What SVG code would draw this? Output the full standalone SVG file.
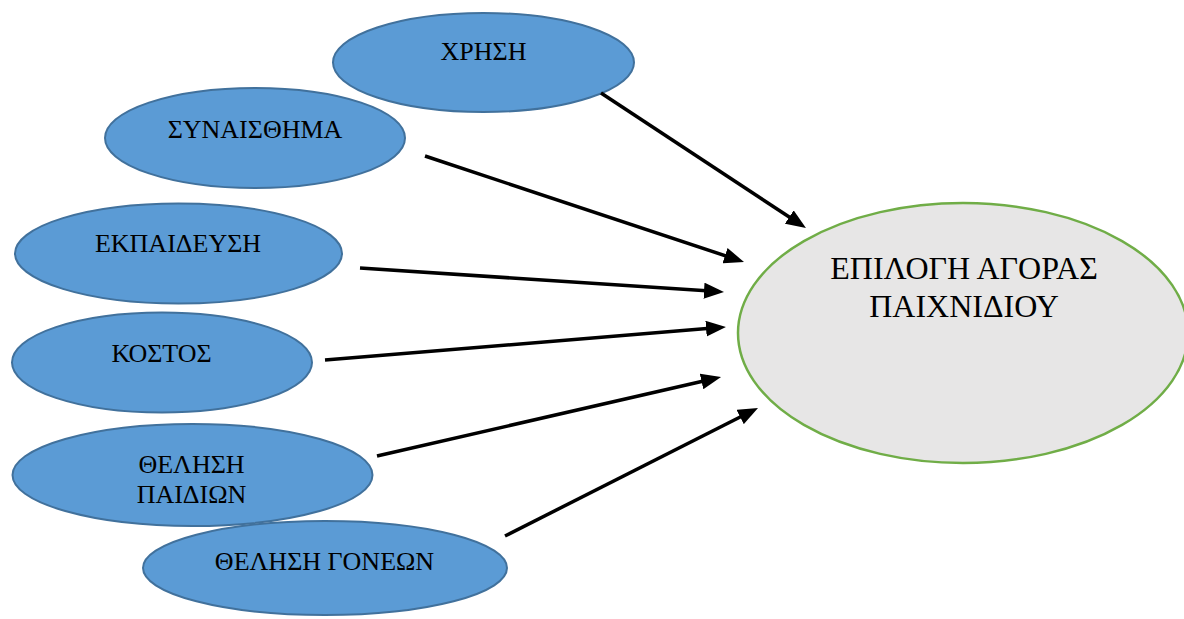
<svg xmlns="http://www.w3.org/2000/svg" width="1184" height="619" viewBox="0 0 1184 619">
  <style>
    .factor { fill: #5B9BD5; stroke: #41719C; stroke-width: 2; }
    .target { fill: #E7E6E6; stroke: #70AD47; stroke-width: 2.5; }
    .lbl { font-family: "Liberation Serif", "Times New Roman", serif; font-size: 26px; fill: #000; text-anchor: middle; }
    .lbl-main { font-size: 32px; }
    .conn line { stroke: #000; stroke-width: 3.5; marker-end: url(#head); }
  </style>
  <defs>
    <marker id="head" markerUnits="userSpaceOnUse" markerWidth="20" markerHeight="16" refX="10" refY="8" orient="auto">
      <path d="M0,0 L20,8 L0,16 z" fill="#000"/>
    </marker>
  </defs>
  <rect width="1184" height="619" fill="#fff"/>

  <g id="node-target">
    <ellipse class="target" cx="963" cy="333" rx="225" ry="130"/>
    <text class="lbl lbl-main" x="964" y="279">ΕΠΙΛΟΓΗ ΑΓΟΡΑΣ</text>
    <text class="lbl lbl-main" x="964" y="317">ΠΑΙΧΝΙΔΙΟΥ</text>
  </g>

  <g id="node-xrisi">
    <ellipse class="factor" cx="483.5" cy="62.5" rx="150.5" ry="49.5"/>
    <text class="lbl" x="483.5" y="60">ΧΡΗΣΗ</text>
  </g>

  <g id="node-synaisthima">
    <ellipse class="factor" cx="255" cy="138" rx="150" ry="50"/>
    <text class="lbl" x="255" y="138">ΣΥΝΑΙΣΘΗΜΑ</text>
  </g>

  <g id="node-ekpaideysi">
    <ellipse class="factor" cx="178.5" cy="253.5" rx="163.5" ry="50"/>
    <text class="lbl" x="178" y="252">ΕΚΠΑΙΔΕΥΣΗ</text>
  </g>

  <g id="node-kostos">
    <ellipse class="factor" cx="162" cy="362.5" rx="150" ry="50"/>
    <text class="lbl" x="161.5" y="362">ΚΟΣΤΟΣ</text>
  </g>

  <g id="node-thelisi-paidion">
    <ellipse class="factor" cx="192.5" cy="475" rx="180" ry="51"/>
    <text class="lbl" x="191.5" y="473">ΘΕΛΗΣΗ</text>
    <text class="lbl" x="191.5" y="503">ΠΑΙΔΙΩΝ</text>
  </g>

  <g id="node-thelisi-goneon">
    <ellipse class="factor" cx="325" cy="568" rx="182" ry="47"/>
    <text class="lbl" x="324.5" y="570">ΘΕΛΗΣΗ ΓΟΝΕΩΝ</text>
  </g>

  <g id="connectors" class="conn">
    <line x1="601" y1="93" x2="797.6" y2="222.5"/>
    <line x1="425" y1="156" x2="734.5" y2="258.8"/>
    <line x1="360" y1="268" x2="714" y2="291.3"/>
    <line x1="325" y1="360" x2="716" y2="327.8"/>
    <line x1="377" y1="456" x2="711.3" y2="379.2"/>
    <line x1="505" y1="536" x2="749.1" y2="412.5"/>
  </g>
</svg>
